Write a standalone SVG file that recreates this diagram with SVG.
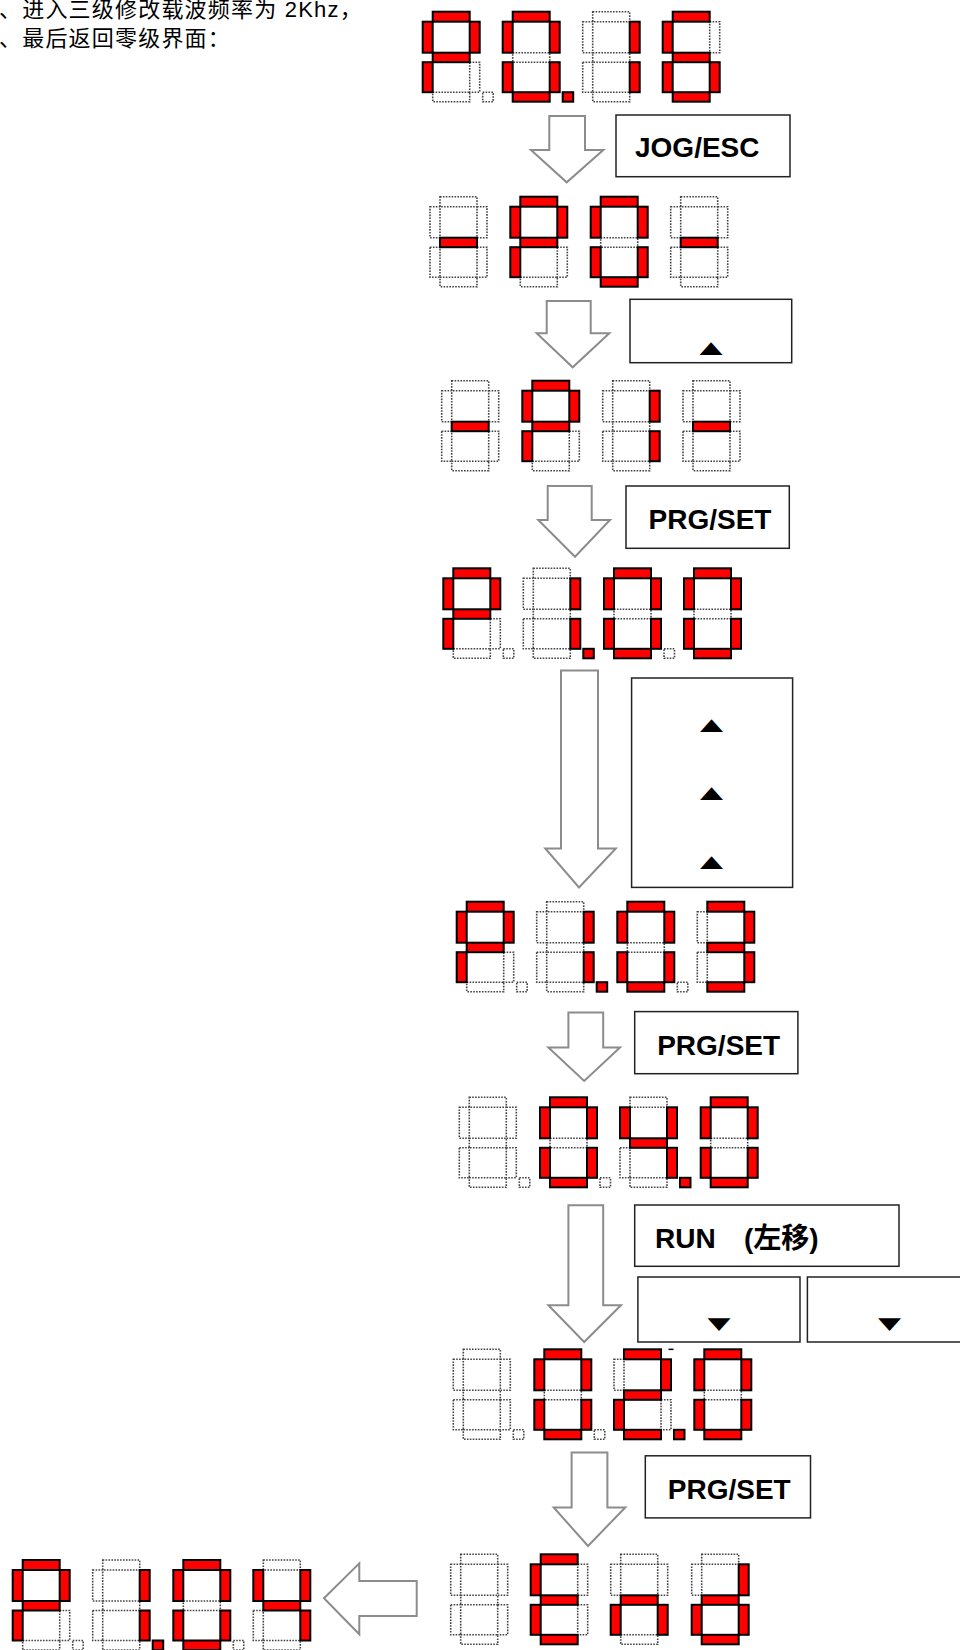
<svg xmlns="http://www.w3.org/2000/svg" xmlns:xlink="http://www.w3.org/1999/xlink" width="960" height="1650" viewBox="0 0 960 1650">
<style>
.on{fill:#ff0000;stroke:#000;stroke-width:2}
.off{fill:none;stroke:#444;stroke-width:1.6;stroke-dasharray:1.6 1.3}
.arr{fill:#fff;stroke:#8c8c8c;stroke-width:2}
.box{fill:#fff;stroke:#222;stroke-width:1.5}
.lbl{font-family:"Liberation Sans","Noto Sans CJK SC",sans-serif;font-weight:bold;font-size:28px;fill:#000}
.tri{font-family:"DejaVu Sans",sans-serif;font-size:30px;fill:#000;text-anchor:middle}
.hdr{font-family:"Liberation Sans","Noto Sans CJK SC",sans-serif;font-size:22px;fill:#000;letter-spacing:1.2px}
</style>
<defs>
<rect id="sa" x="10" y="0" width="37" height="10"/>
<rect id="sf" x="0" y="10" width="10" height="31"/>
<rect id="sb" x="47" y="10" width="10" height="31"/>
<rect id="sg" x="10" y="41" width="37" height="9.5"/>
<rect id="se" x="0" y="50.5" width="10" height="30"/>
<rect id="sc" x="47" y="50.5" width="10" height="30"/>
<rect id="sd" x="10" y="80.5" width="37" height="9.5"/>
<rect id="sp" x="60" y="80.5" width="10.5" height="9.5"/>
<g id="dP"><use href="#sc" class="off"/><use href="#sd" class="off"/><use href="#sa" class="on"/><use href="#sf" class="on"/><use href="#sb" class="on"/><use href="#sg" class="on"/><use href="#se" class="on"/></g>
<g id="d0"><use href="#sg" class="off"/><use href="#sa" class="on"/><use href="#sf" class="on"/><use href="#sb" class="on"/><use href="#se" class="on"/><use href="#sc" class="on"/><use href="#sd" class="on"/></g>
<g id="d1"><use href="#sa" class="off"/><use href="#sf" class="off"/><use href="#sg" class="off"/><use href="#se" class="off"/><use href="#sd" class="off"/><use href="#sb" class="on"/><use href="#sc" class="on"/></g>
<g id="dM"><use href="#sa" class="off"/><use href="#sf" class="off"/><use href="#sb" class="off"/><use href="#se" class="off"/><use href="#sc" class="off"/><use href="#sd" class="off"/><use href="#sg" class="on"/></g>
<g id="dB"><use href="#sa" class="off"/><use href="#sf" class="off"/><use href="#sb" class="off"/><use href="#sg" class="off"/><use href="#se" class="off"/><use href="#sc" class="off"/><use href="#sd" class="off"/></g>
<g id="d6"><use href="#sb" class="off"/><use href="#sa" class="on"/><use href="#sf" class="on"/><use href="#sg" class="on"/><use href="#se" class="on"/><use href="#sc" class="on"/><use href="#sd" class="on"/></g>
<g id="d3"><use href="#sf" class="off"/><use href="#se" class="off"/><use href="#sa" class="on"/><use href="#sb" class="on"/><use href="#sg" class="on"/><use href="#sc" class="on"/><use href="#sd" class="on"/></g>
<g id="d4"><use href="#sa" class="off"/><use href="#se" class="off"/><use href="#sd" class="off"/><use href="#sf" class="on"/><use href="#sb" class="on"/><use href="#sg" class="on"/><use href="#sc" class="on"/></g>
<g id="d2"><use href="#sf" class="off"/><use href="#sc" class="off"/><use href="#sa" class="on"/><use href="#sb" class="on"/><use href="#sg" class="on"/><use href="#se" class="on"/><use href="#sd" class="on"/></g>
<g id="dE"><use href="#sb" class="off"/><use href="#sc" class="off"/><use href="#sa" class="on"/><use href="#sf" class="on"/><use href="#sg" class="on"/><use href="#se" class="on"/><use href="#sd" class="on"/></g>
<g id="dn"><use href="#sa" class="off"/><use href="#sf" class="off"/><use href="#sb" class="off"/><use href="#sd" class="off"/><use href="#sg" class="on"/><use href="#se" class="on"/><use href="#sc" class="on"/></g>
<g id="dd"><use href="#sa" class="off"/><use href="#sf" class="off"/><use href="#sb" class="on"/><use href="#sg" class="on"/><use href="#se" class="on"/><use href="#sc" class="on"/><use href="#sd" class="on"/></g>
</defs>
<rect width="960" height="1650" fill="#fff"/>

<g id="header">
<text class="hdr" x="-1" y="17">、进入三级修改载波频率为 2Khz，</text>
<text class="hdr" x="-1" y="46">、最后返回零级界面：</text>
</g>

<g id="connectors">
<path class="arr" d="M549.3,116 L585,116 L585,150 L603.3,150 L566.7,182.3 L531,150 L549.3,150 Z"/>
<path class="arr" d="M546.7,301 L590.7,301 L590.7,333.3 L609.3,333.3 L572.7,367.3 L536.7,333.3 L546.7,333.3 Z"/>
<path class="arr" d="M547.7,486 L591.7,486 L591.7,520 L610,520 L575,556.7 L538.3,520 L547.7,520 Z"/>
<path class="arr" d="M561,670.5 L598,670.5 L598,848.4 L615.8,848.4 L579,887.4 L545.3,848.4 L561,848.4 Z"/>
<path class="arr" d="M568.4,1012.6 L603.2,1012.6 L603.2,1047.4 L620,1047.4 L584.2,1081 L548.4,1047.4 L568.4,1047.4 Z"/>
<path class="arr" d="M568.4,1205.3 L603.2,1205.3 L603.2,1305.3 L621,1305.3 L584.2,1342 L548.4,1305.3 L568.4,1305.3 Z"/>
<path class="arr" d="M571.6,1452.6 L607.4,1452.6 L607.4,1507.4 L625.3,1507.4 L588,1546 L553.7,1507.4 L571.6,1507.4 Z"/>
<path class="arr" d="M324,1598.3 L359.3,1563.3 L359.3,1581 L416.7,1581 L416.7,1616 L359.3,1616 L359.3,1634.3 Z"/>
</g>

<g id="key-jogesc">
<rect class="box" x="616" y="115" width="174" height="61.7"/>
<text class="lbl" x="635" y="156.7">JOG/ESC</text>
</g>
<g id="key-up1">
<rect class="box" x="630" y="299.3" width="161.7" height="63.4"/>
<text class="tri" transform="translate(711,353) scale(1,0.56)">▲</text>
</g>
<g id="key-prgset1">
<rect class="box" x="626" y="486" width="163.3" height="62.3"/>
<text class="lbl" x="648.5" y="529.3">PRG/SET</text>
</g>
<g id="key-up3">
<rect class="box" x="631.6" y="678" width="161" height="209.4"/>
<text class="tri" transform="translate(711.6,730) scale(1,0.56)">▲</text>
<text class="tri" transform="translate(711.6,797.6) scale(1,0.56)">▲</text>
<text class="tri" transform="translate(711.6,867) scale(1,0.56)">▲</text>
</g>
<g id="key-prgset2">
<rect class="box" x="634.7" y="1011.6" width="163.2" height="62.1"/>
<text class="lbl" x="657.2" y="1054.9">PRG/SET</text>
</g>
<g id="key-run">
<rect class="box" x="634.7" y="1205" width="264.3" height="61.3"/>
<text class="lbl" x="655" y="1248"><tspan>RUN</tspan><tspan x="744">(左移)</tspan></text>
</g>
<g id="key-down1">
<rect class="box" x="637.9" y="1277" width="162.1" height="65"/>
<text class="tri" transform="translate(719,1329) scale(1,0.56)">▼</text>
</g>
<g id="key-down2">
<rect class="box" x="807.4" y="1277" width="170" height="65"/>
<text class="tri" transform="translate(889.5,1329) scale(1,0.56)">▼</text>
</g>
<g id="key-prgset3">
<rect class="box" x="645.3" y="1455.8" width="165.2" height="62.1"/>
<text class="lbl" x="667.8" y="1499">PRG/SET</text>
</g>

<g id="display1">
<use href="#dP" x="422.7" y="11.7"/><use href="#sp" class="off" x="422.7" y="11.7"/>
<use href="#d0" x="502.7" y="11.7"/><use href="#sp" class="on" x="502.7" y="11.7"/>
<use href="#d1" x="582.7" y="11.7"/>
<use href="#d6" x="662.7" y="11.7"/>
</g>
<g id="display2">
<use href="#dM" x="430" y="196.7"/>
<use href="#dP" x="510.3" y="196.7"/>
<use href="#d0" x="590.7" y="196.7"/>
<use href="#dM" x="670.7" y="196.7"/>
</g>
<g id="display3">
<use href="#dM" x="441.7" y="380.7"/>
<use href="#dP" x="522.3" y="380.7"/>
<use href="#d1" x="602.7" y="380.7"/>
<use href="#dM" x="683" y="380.7"/>
</g>
<g id="display4">
<use href="#dP" x="443.3" y="568.3"/><use href="#sp" class="off" x="443.3" y="568.3"/>
<use href="#d1" x="523.3" y="568.3"/><use href="#sp" class="on" x="523.3" y="568.3"/>
<use href="#d0" x="604" y="568.3"/><use href="#sp" class="off" x="604" y="568.3"/>
<use href="#d0" x="684" y="568.3"/>
</g>
<g id="display5">
<use href="#dP" x="456.7" y="901.7"/><use href="#sp" class="off" x="456.7" y="901.7"/>
<use href="#d1" x="536.7" y="901.7"/><use href="#sp" class="on" x="536.7" y="901.7"/>
<use href="#d0" x="617.3" y="901.7"/><use href="#sp" class="off" x="617.3" y="901.7"/>
<use href="#d3" x="697.3" y="901.7"/>
</g>
<g id="display6">
<use href="#dB" x="459.3" y="1097.3"/><use href="#sp" class="off" x="459.3" y="1097.3"/>
<use href="#d0" x="540" y="1097.3"/><use href="#sp" class="off" x="540" y="1097.3"/>
<use href="#d4" x="620" y="1097.3"/><use href="#sp" class="on" x="620" y="1097.3"/>
<use href="#d0" x="700.7" y="1097.3"/>
</g>
<g id="display7">
<use href="#dB" x="453.3" y="1349.3"/><use href="#sp" class="off" x="453.3" y="1349.3"/>
<use href="#d0" x="534.3" y="1349.3"/><use href="#sp" class="off" x="534.3" y="1349.3"/>
<use href="#d2" x="614" y="1349.3"/><use href="#sp" class="on" x="614" y="1349.3"/>
<use href="#d0" x="694.3" y="1349.3"/>
<rect x="668.5" y="1348.6" width="5" height="1.5" fill="#000"/>
</g>
<g id="display8">
<use href="#dB" x="450.7" y="1554.3"/>
<use href="#dE" x="530.7" y="1554.3"/>
<use href="#dn" x="610.7" y="1554.3"/>
<use href="#dd" x="691.7" y="1554.3"/>
</g>
<g id="display9">
<use href="#dP" x="12.7" y="1560"/><use href="#sp" class="off" x="12.7" y="1560"/>
<use href="#d1" x="92.7" y="1560"/><use href="#sp" class="on" x="92.7" y="1560"/>
<use href="#d0" x="173.3" y="1560"/><use href="#sp" class="off" x="173.3" y="1560"/>
<use href="#d4" x="253.3" y="1560"/>
</g>
</svg>
